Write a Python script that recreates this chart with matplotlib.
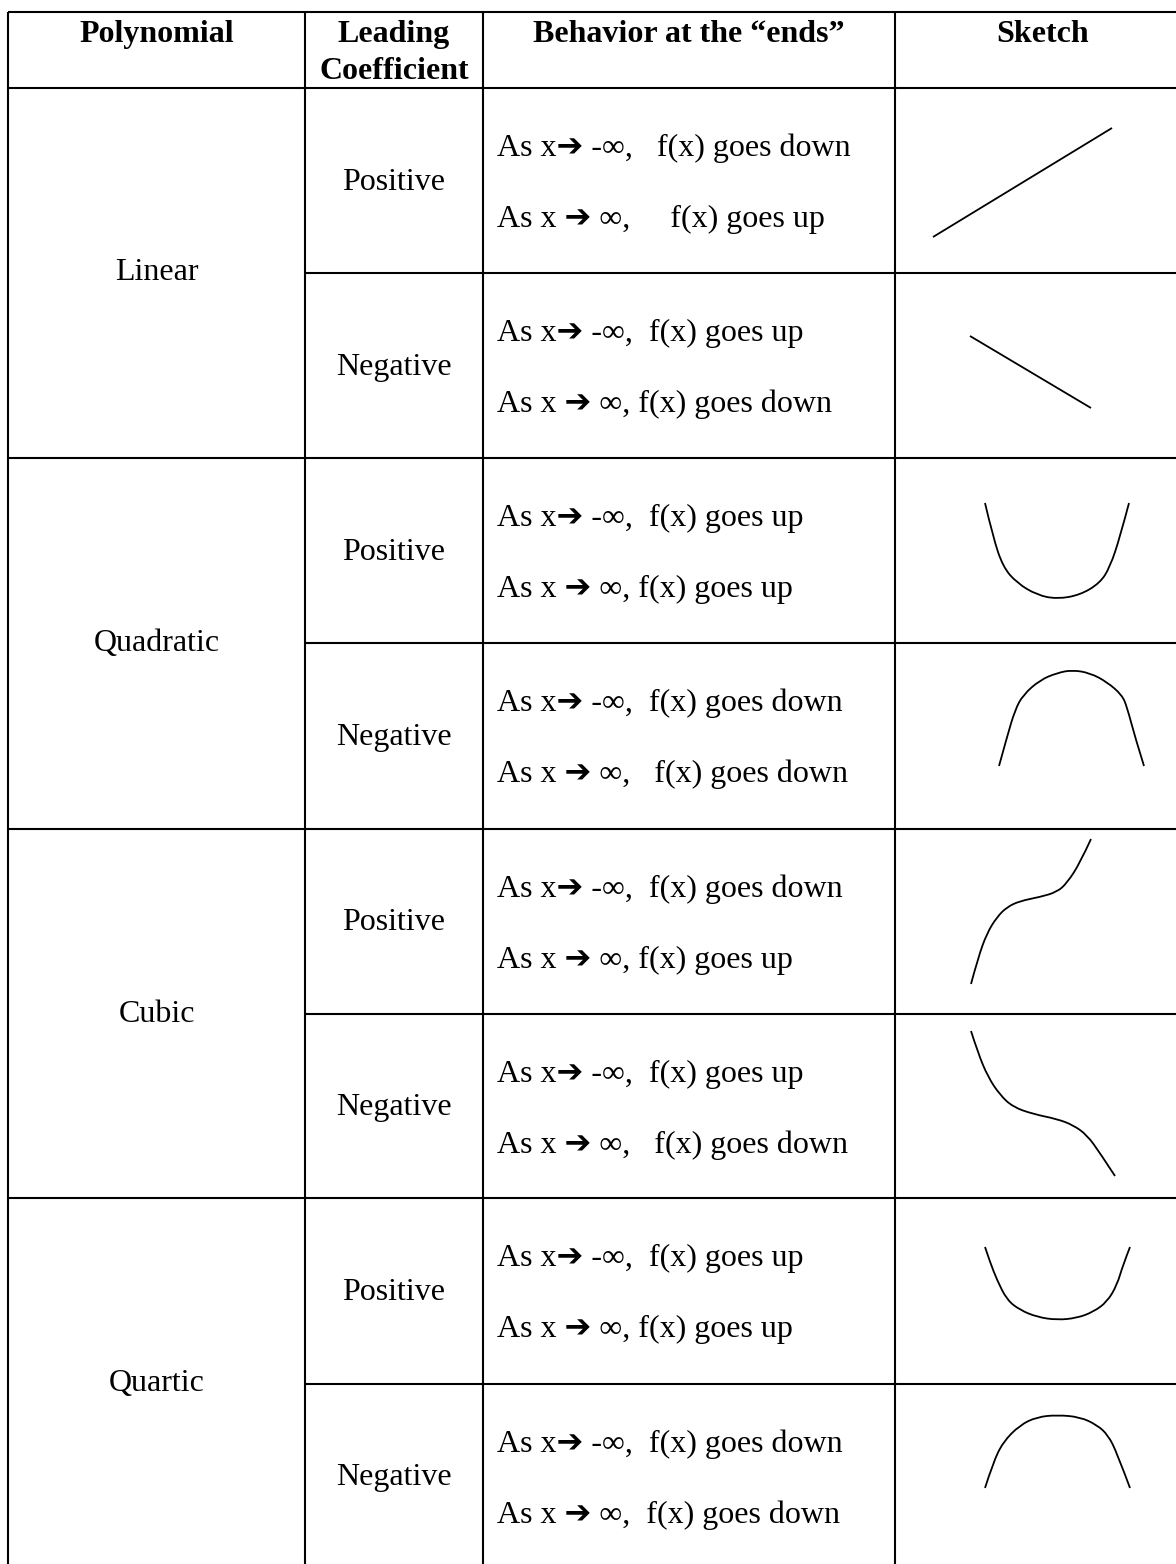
import matplotlib
matplotlib.use("Agg")
import matplotlib.pyplot as plt
from matplotlib.path import Path
from matplotlib.patches import PathPatch

# ---- table content ----
poly_names = ["Linear", "Quadratic", "Cubic", "Quartic"]
lead_signs = ["Positive", "Negative"]
headers = [["Polynomial"], ["Leading", "Coefficient"], ["Behavior at the \u201cends\u201d"], ["Sketch"]]

ARR = "\u2794"
left_end = [
    "As x" + ARR + " -\u221e,   f(x) goes down",
    "As x" + ARR + " -\u221e,  f(x) goes up",
    "As x" + ARR + " -\u221e,  f(x) goes up",
    "As x" + ARR + " -\u221e,  f(x) goes down",
    "As x" + ARR + " -\u221e,  f(x) goes down",
    "As x" + ARR + " -\u221e,  f(x) goes up",
    "As x" + ARR + " -\u221e,  f(x) goes up",
    "As x" + ARR + " -\u221e,  f(x) goes down",
]
right_end = [
    "As x " + ARR + " \u221e,     f(x) goes up",
    "As x " + ARR + " \u221e, f(x) goes down",
    "As x " + ARR + " \u221e, f(x) goes up",
    "As x " + ARR + " \u221e,   f(x) goes down",
    "As x " + ARR + " \u221e, f(x) goes up",
    "As x " + ARR + " \u221e,   f(x) goes down",
    "As x " + ARR + " \u221e, f(x) goes up",
    "As x " + ARR + " \u221e,  f(x) goes down",
]

# sketch curves, points (pixels inside the sketch cell, y down)
lin_pos_x = [38, 217]
lin_pos_y = [149, 40]
lin_neg_x = [75, 196]
lin_neg_y = [63, 135]
quad_pos_x = [90, 98, 108, 122, 142, 162, 185, 205, 215, 225, 234]
quad_pos_y = [45, 79, 109, 125, 137, 141, 137, 125, 109, 79, 45]
quad_neg_x = [104, 112, 120, 128, 145, 162, 177, 195, 212, 227, 232, 240, 249]
quad_neg_y = [123, 94, 67, 52, 37, 30, 27, 30, 39, 52, 64, 94, 123]
cub_pos_x = [76, 83, 92, 102, 112, 125, 145, 162, 172, 185, 196]
cub_pos_y = [155, 129, 104, 88, 78, 72, 68, 63, 54, 34, 10]
cub_neg_x = [76, 83, 93, 105, 118, 138, 162, 178, 192, 205, 220]
cub_neg_y = [17, 39, 63, 81, 93, 100, 105, 111, 121, 139, 162]
quart_pos_x = [90, 95, 102, 112, 125, 142, 162, 182, 198, 212, 222, 228, 235]
quart_pos_y = [49, 64, 82, 102, 112, 119, 122, 120, 114, 104, 87, 67, 49]
quart_neg_x = [90, 98, 108, 125, 142, 162, 185, 202, 213, 222, 235]
quart_neg_y = [104, 79, 58, 41, 33, 31, 33, 41, 51, 69, 104]

sketch_x = [lin_pos_x, lin_neg_x, quad_pos_x, quad_neg_x, cub_pos_x, cub_neg_x, quart_pos_x, quart_neg_x]
sketch_y = [lin_pos_y, lin_neg_y, quad_pos_y, quad_neg_y, cub_pos_y, cub_neg_y, quart_pos_y, quart_neg_y]

# ---- layout (pixels) ----
W, H = 1176, 1564
col_x = [8, 305, 483, 895, 1190]
top_y = 12
row_tops = [88, 273, 458, 643, 829, 1014, 1198, 1384, 1569]
LW = 1.5
FS = 23
serif = ["Liberation Serif", "DejaVu Sans"]


def smooth_path(xs, ys):
    # quadratic bezier through the midpoints, read points act as control points
    pts = list(zip(xs, ys))
    if len(pts) < 3:
        return Path(pts, [Path.MOVETO, Path.LINETO])
    verts = [pts[0]]
    codes = [Path.MOVETO]
    for i in range(1, len(pts) - 1):
        nxt = pts[i + 1] if i == len(pts) - 2 else ((pts[i][0] + pts[i + 1][0]) / 2,
                                                    (pts[i][1] + pts[i + 1][1]) / 2)
        verts += [pts[i], nxt]
        codes += [Path.CURVE3, Path.CURVE3]
    return Path(verts, codes)


fig = plt.figure(figsize=(W / 100, H / 100), dpi=100)
ax = fig.add_axes([0, 0, 1, 1])
ax.set_xlim(0, W)
ax.set_ylim(H, 0)
ax.axis("off")

# grid lines
for x in col_x[:4]:
    ax.vlines(x, top_y, H + 10, color="black", lw=LW)
ax.hlines([top_y, row_tops[0]], col_x[0], W + 10, color="black", lw=LW)
for i in range(2, 8, 2):
    ax.hlines(row_tops[i], col_x[0], W + 10, color="black", lw=LW)
for i in range(1, 8, 2):
    ax.hlines(row_tops[i], col_x[1], W + 10, color="black", lw=LW)

# headers
for j, h in enumerate(headers):
    cx = (col_x[j] + col_x[j + 1]) / 2
    for k, line in enumerate(h):
        ax.text(cx, 42 + 37 * k, line, ha="center", va="baseline", fontsize=FS,
                fontweight="bold", family=serif)

# polynomial names
for g, name in enumerate(poly_names):
    ax.text((col_x[0] + col_x[1]) / 2, row_tops[2 * g + 1], name, ha="center",
            va="center", fontsize=FS, family=serif)

# rows
for r in range(8):
    t = row_tops[r]
    ax.text((col_x[1] + col_x[2]) / 2, t + 94, lead_signs[r % 2], ha="center",
            va="center", fontsize=FS, family=serif)
    ax.text(col_x[2] + 14, t + 60, left_end[r], ha="left", va="center",
            fontsize=FS, family=serif)
    ax.text(col_x[2] + 14, t + 131, right_end[r], ha="left", va="center",
            fontsize=FS, family=serif)

    # sketch in its own small axes over the cell
    cw = W - col_x[3]
    ch = row_tops[r + 1] - t
    sa = fig.add_axes([col_x[3] / W, 1 - (t + ch) / H, cw / W, ch / H])
    sa.set_xlim(0, cw)
    sa.set_ylim(ch, 0)
    sa.axis("off")
    sa.add_patch(PathPatch(smooth_path(sketch_x[r], sketch_y[r]), fill=False,
                           edgecolor="black", lw=1.3, capstyle="butt"))

fig.savefig("out.png", dpi=100, facecolor="white")
